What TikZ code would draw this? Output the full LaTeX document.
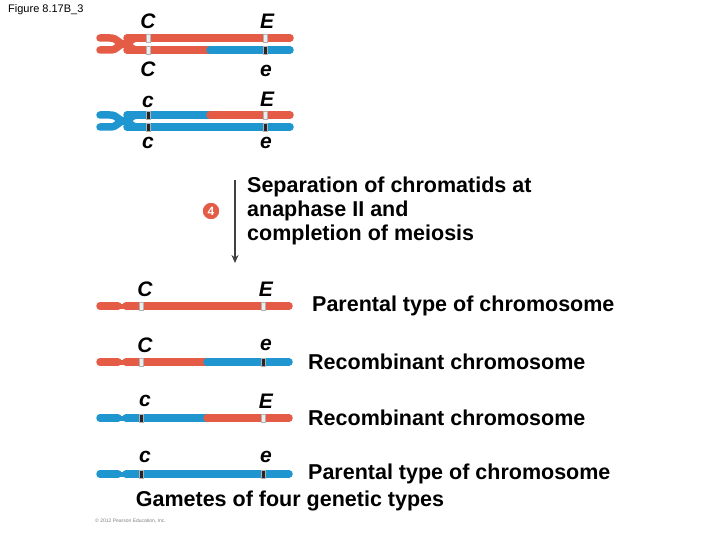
\documentclass[tikz,border=0pt]{standalone}
\usepackage{fontspec}
\setmainfont{Liberation Sans}
\usetikzlibrary{arrows.meta,positioning}
\definecolor{chred}{RGB}{228,92,70}
\definecolor{chblue}{RGB}{32,150,208}
\tikzset{
  arm/.style = {line width=7.5pt, line cap=round},
  bandA/.style = {fill=gray!15, draw=gray!60, line width=0.4pt},
  banda/.style = {fill=black!85, draw=gray!60, line width=0.4pt},
  allele/.style = {font=\fontsize{21}{22}\selectfont\bfseries\itshape, inner sep=0pt},
  note/.style = {font=\fontsize{21.5}{24}\selectfont\bfseries, anchor=west, inner sep=0pt},
  stepnum/.style = {circle, fill=chred, draw=white, line width=1pt, text=white, font=\fontsize{12}{12}\selectfont\bfseries, inner sep=2.5pt}
}
% one chromatid: y, left colour, right colour, x of the colour change
\newcommand{\chromatid}[4]{
  \draw[arm, #2] (127,#1) -- (#4,#1);
  \draw[arm, #3] (#4,#1) -- (290,#1);
}
\newcommand{\band}[3]{\filldraw[#3] (#1-2,#2-4) rectangle (#1+2,#2+4);}
\begin{document}
\begin{tikzpicture}[x=1pt,y=-1pt]
  \useasboundingbox (0,0) rectangle (720,540);
  \node[anchor=north west, font=\fontsize{11}{12}\selectfont, inner sep=0pt] (fig) at (8,4) {Figure 8.17B\_3};

  % homologous pair 1
  \draw[arm, chred] (100,38) -- (110,38) .. controls (118,38) and (118,44) .. (124,44)
    .. controls (130,44) and (130,38) .. (138,38);
  \draw[arm, chred] (100,50) -- (110,50) .. controls (118,50) and (118,44) .. (124,44)
    .. controls (130,44) and (130,50) .. (138,50);
  \chromatid{38}{chred}{chred}{210}
  \chromatid{50}{chred}{chblue}{210}
  \band{148}{38}{bandA} \band{265}{38}{bandA}
  \band{148}{50}{bandA} \band{265}{50}{banda}
  \node[allele] (c1) at (148,21) {C};
  \node[allele] (e1) at (267,21) {E};
  \node[allele] (c2) at (148,69) {C};
  \node[allele] (e2) at (266,71) {e};

  % homologous pair 2
  \draw[arm, chblue] (100,115) -- (110,115) .. controls (118,115) and (118,121) .. (124,121)
    .. controls (130,121) and (130,115) .. (138,115);
  \draw[arm, chblue] (100,127) -- (110,127) .. controls (118,127) and (118,121) .. (124,121)
    .. controls (130,121) and (130,127) .. (138,127);
  \chromatid{115}{chblue}{chred}{210}
  \chromatid{127}{chblue}{chblue}{210}
  \band{148}{115}{banda} \band{265}{115}{bandA}
  \band{148}{127}{banda} \band{265}{127}{banda}
  \node[allele] (c3) at (148,102) {c};
  \node[allele] (e3) at (267,99) {E};
  \node[allele] (c4) at (148,143) {c};
  \node[allele] (e4) at (266,143) {e};

  % step 4
  \coordinate (top) at (235,180);
  \coordinate (bot) at (235,263);
  \draw[-{Stealth[length=8pt,width=7pt]}, line width=1.2pt, black!75] (top) -- (bot);
  \node[stepnum] (s4) at (211,211) {4};
  \node[note, align=left, anchor=north west] (sep) at (247,177)
    {Separation of chromatids at\\anaphase {\rmfamily II} and\\completion of meiosis};

  % gametes
  \foreach \y/\l/\r/\ca/\cb/\ba/\bb/\txt/\tx in {
      306/chred/chred/C/E/bandA/bandA/Parental type of chromosome/312,
      362/chred/chblue/C/e/bandA/banda/Recombinant chromosome/308,
      418/chblue/chred/c/E/banda/bandA/Recombinant chromosome/308,
      474/chblue/chblue/c/e/banda/banda/Parental type of chromosome/308}{
    \draw[arm, \l] (100,\y) -- (118,\y);
    \draw[arm, \l] (126,\y) -- (207,\y);
    \draw[arm, \r] (207,\y) -- (289,\y);
    \fill[\l] (118,\y-2.5) rectangle (126,\y+2.5);
    \band{141}{\y}{\ba} \band{263}{\y}{\bb}
    \node[allele] (ga\y) at (145,\y-17) {\ca};
    \node[allele] (gb\y) at (266,\y-17) {\cb};
    \node[note] (t\y) at (\tx,\y) {\txt};
  }
  \node[font=\fontsize{21.5}{22}\selectfont\bfseries] (gam) at (290,501) {Gametes of four genetic types};
  \node[anchor=west, font=\fontsize{5}{6}\selectfont, text=gray, inner sep=0pt] (copy) at (95,521)
    {\textcopyright\ 2012 Pearson Education, Inc.};
\end{tikzpicture}
\end{document}
